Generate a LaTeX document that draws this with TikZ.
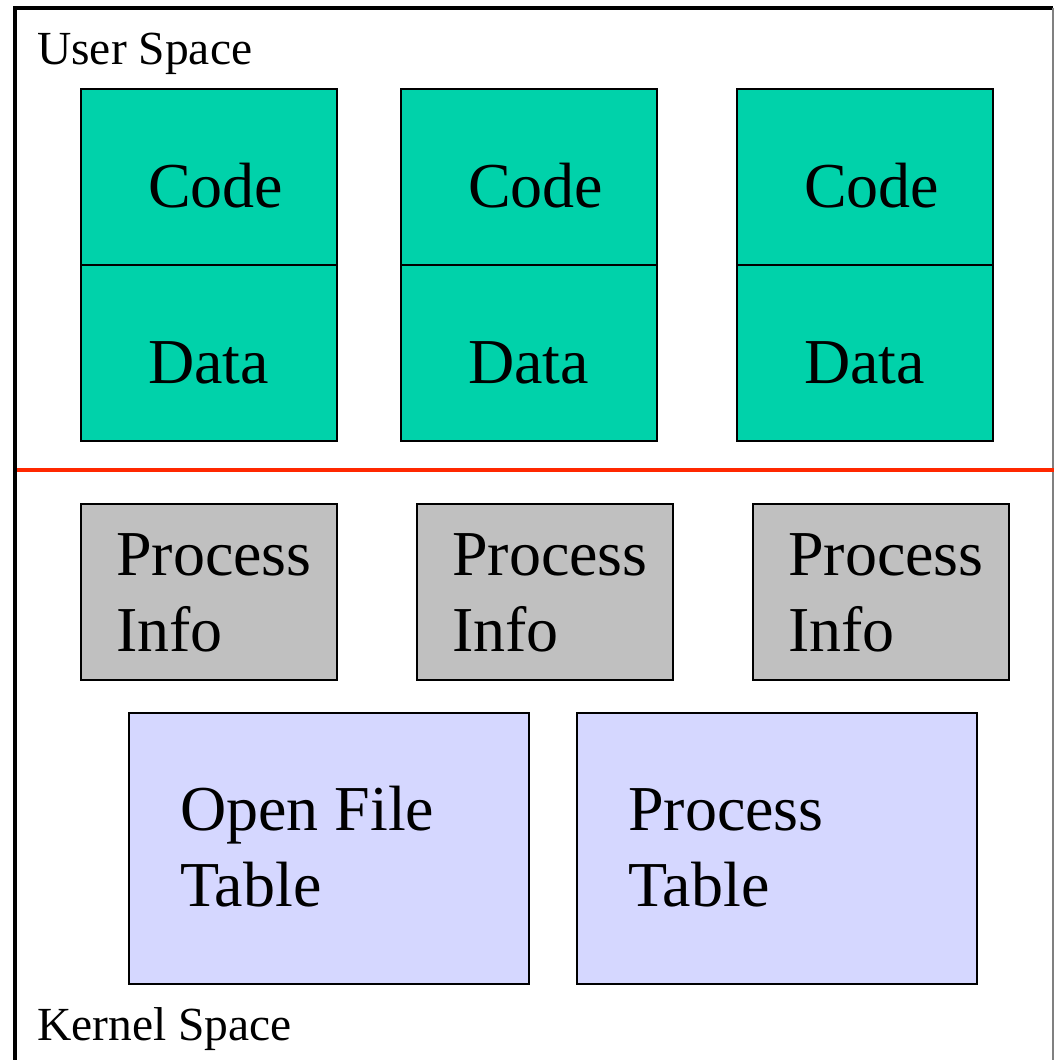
\documentclass[tikz,border=0pt]{standalone}
\usepackage{fontspec}
\setmainfont{Liberation Serif}
\definecolor{teal}{RGB}{0,210,170}
\definecolor{procgray}{RGB}{192,192,192}
\definecolor{lav}{RGB}{213,215,255}
\definecolor{redline}{RGB}{255,40,0}
\begin{document}
\begin{tikzpicture}[x=1pt,y=-1pt,
  box/.style={draw=black,line width=1.5pt,inner sep=0pt,anchor=north west},
  seg/.style={box,fill=teal,minimum width=256pt,minimum height=176pt},
  pinfo/.style={box,fill=procgray,minimum width=256pt,minimum height=176pt},
  tbl/.style={box,fill=lav,minimum width=400pt,minimum height=271pt},
  big/.style={anchor=base west,inner sep=0pt,font=\fontsize{64}{76}\selectfont,align=left},
  small/.style={anchor=base west,inner sep=0pt,font=\fontsize{47.5}{57}\selectfont}]
\useasboundingbox (0,0) rectangle (1054,1060);
% frame
\draw[line width=4pt] (15,1062) -- (15,7.5) -- (1053,7.5);
\draw[line width=1.5pt,draw=gray] (1053,7.5) -- (1053,1062);
\coordinate (rl) at (17,470);
\coordinate (rr) at (1054,470);
\draw[redline,line width=4pt] (rl) -- (rr);
\node[small] (us) at (37,64) {User Space};
\node[small] (ks) at (37,1040) {Kernel Space};
% user segments
\foreach \i/\x in {1/80,2/400,3/736}{
  \node[seg] (c\i) at (\x,88) {};
  \node[seg] (d\i) at (\x,264) {};
  \node[big] (ct\i) at (\x+68,207) {Code};
  \node[big] (dt\i) at (\x+68,383) {Data};
}
% process info
\foreach \i/\x in {1/80,2/416,3/752}{
  \node[pinfo] (p\i) at (\x,503) {};
  \node[big] (pt\i) at (\x+36,651) {Process\\Info};
}
\node[tbl] (oft) at (128,712) {};
\node[big] (ofttxt) at (180,906) {Open File\\Table};
\node[tbl] (pt) at (576,712) {};
\node[big] (pttxt) at (628,906) {Process\\Table};
\end{tikzpicture}
\end{document}
